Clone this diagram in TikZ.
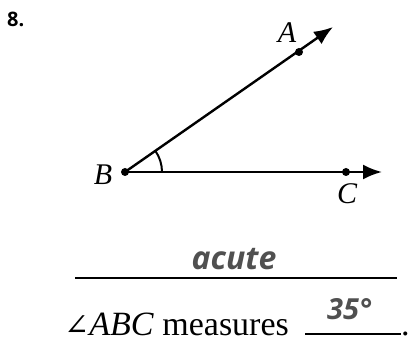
\documentclass[tikz,border=0pt]{standalone}
\usepackage{fontspec}
\setmainfont{Liberation Serif}
\setsansfont{Open Sans}
\newfontfamily\answerfont{Open Sans}
\newfontfamily\symbolfont{DejaVu Serif}
\usetikzlibrary{arrows.meta,calc}

\definecolor{pencil}{HTML}{505050}

\tikzset{
  ray/.style={line width=2.4pt, -{Latex[length=19pt,width=15pt]}},
  pt/.style={circle, fill, inner sep=0pt, minimum size=8pt},
  lbl/.style={font=\fontsize{30}{34}\selectfont\itshape, inner sep=0pt},
  answer/.style={font=\answerfont\fontsize{#1}{#1}\selectfont\bfseries\itshape, text=pencil, inner sep=0pt},
  prose/.style={font=\fontsize{34}{40}\selectfont, inner sep=0pt, anchor=base west}
}

\begin{document}
\begin{tikzpicture}[x=1pt, y=1pt]
            \useasboundingbox (0,0) rectangle (409,347);
            \node[anchor=base west, font=\sffamily\fontsize{20}{24}\selectfont\bfseries, inner sep=0pt] (num) at (7,320) {8.};
            % the two rays
            \coordinate (B) at (125,175);
            \coordinate (A) at (299,295);
            \coordinate (C) at (346,175);
            \coordinate (Aend) at (333,320);
            \coordinate (Cend) at (382,175);
            \draw[ray] (B) -- (Aend);
            \draw[ray] (B) -- (Cend);
            \draw[line width=2pt] ($(B)+(37,0)$) arc (0:35:37);
            \node[pt] (dotB) at (B) {};
            \node[pt] (dotA) at (A) {};
            \node[pt] (dotC) at (C) {};
            \node[lbl] (labA) at (287,314) {A};
            \node[lbl] (labB) at (103,172) {B};
            \node[lbl] (labC) at (347,153) {C};
            % answers
            \node[answer=32, anchor=base] (kind) at (234,77) {acute};
            \draw[line width=1.5pt] (75,69) -- (397,69);
            \node[prose] (ask) at (64,11) {{\symbolfont\fontsize{30}{34}\selectfont ∠}\textit{ABC} measures};
            \draw[line width=1.5pt] (305,13) -- (401,13);
            \node[answer=29, anchor=base west] (deg) at (327,27) {35°};
            \node[prose] (stop) at (401,11) {.};
\end{tikzpicture}
\end{document}
